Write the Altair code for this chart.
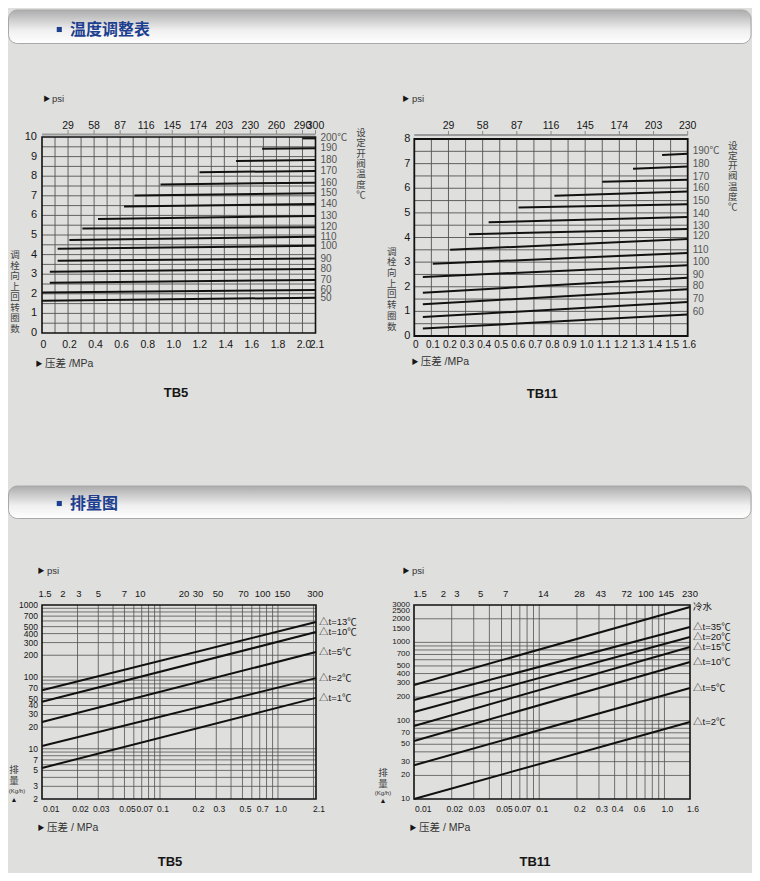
import altair as alt
import pandas as pd

BG = "#dfdfdd"
SANS = "Liberation Sans, Noto Sans CJK SC, DejaVu Sans"
CJK = "Noto Sans CJK SC"
INK = "#161616"
GRID = "#525252"
BLUE = "#1d3f8f"

# ---------------- TB5 temperature adjustment table ----------------
tb5_temp_labels = ["200℃", "190", "180", "170", "160", "150", "140", "130",
                   "120", "110", "100", "90", "80", "70", "60", "50"]
tb5_start_mpa = [2.00, 1.69, 1.49, 1.21, 0.91, 0.71, 0.63, 0.43,
                 0.31, 0.21, 0.12, 0.12, 0.06, 0.06, 0.00, 0.00]
tb5_start_turns = [9.93, 9.40, 8.78, 8.20, 7.58, 7.02, 6.46, 5.82,
                   5.33, 4.75, 4.30, 3.68, 3.12, 2.57, 2.07, 1.65]
tb5_end_mpa = [2.1] * 16
tb5_end_turns = [9.93, 9.43, 8.83, 8.27, 7.67, 7.13, 6.58, 5.97,
                 5.40, 4.91, 4.45, 3.80, 3.27, 2.71, 2.20, 1.80]
tb5_mpa_ticks = [0, 0.2, 0.4, 0.6, 0.8, 1.0, 1.2, 1.4, 1.6, 1.8, 2.0, 2.1]
tb5_mpa_labels = ["0", "0.2", "0.4", "0.6", "0.8", "1.0", "1.2", "1.4", "1.6", "1.8", "2.0", "2.1"]
tb5_psi_ticks = [0.2, 0.4, 0.6, 0.8, 1.0, 1.2, 1.4, 1.6, 1.8, 2.0, 2.1]
tb5_psi_labels = ["29", "58", "87", "116", "145", "174", "203", "230", "260", "290", "300"]
tb5_turn_ticks = [0, 1, 2, 3, 4, 5, 6, 7, 8, 9, 10]

# ---------------- TB11 temperature adjustment table ----------------
tb11_temp_labels = ["190℃", "180", "170", "160", "150", "140", "130",
                    "120", "110", "100", "90", "80", "70", "60"]
tb11_start_mpa = [1.45, 1.28, 1.10, 0.82, 0.61, 0.435, 0.32,
                  0.21, 0.108, 0.05, 0.05, 0.05, 0.05, 0.05]
tb11_start_turns = [7.35, 6.79, 6.26, 5.70, 5.22, 4.62, 4.13,
                    3.50, 2.93, 2.40, 1.76, 1.29, 0.77, 0.30]
tb11_end_mpa = [1.6] * 14
tb11_end_turns = [7.40, 6.88, 6.35, 5.87, 5.35, 4.83, 4.35,
                  3.94, 3.37, 2.87, 2.37, 1.90, 1.38, 0.87]
tb11_mpa_ticks = [0, 0.1, 0.2, 0.3, 0.4, 0.5, 0.6, 0.7, 0.8, 0.9, 1.0, 1.1, 1.2, 1.3, 1.4, 1.5, 1.6]
tb11_mpa_labels = ["0", "0.1", "0.2", "0.3", "0.4", "0.5", "0.6", "0.7", "0.8",
                   "0.9", "1.0", "1.1", "1.2", "1.3", "1.4", "1.5", "1.6"]
tb11_psi_ticks = [0.2, 0.4, 0.6, 0.8, 1.0, 1.2, 1.4, 1.6]
tb11_psi_labels = ["29", "58", "87", "116", "145", "174", "203", "230"]
tb11_turn_ticks = [0, 1, 2, 3, 4, 5, 6, 7, 8]

# ---------------- TB5 discharge chart ----------------
tb5f_labels = ["△t=13℃", "△t=10℃", "△t=5℃", "△t=2℃", "△t=1℃"]
tb5f_x0 = [0.01] * 5
tb5f_x1 = [2.1] * 5
tb5f_y0 = [65, 45, 23.5, 10.9, 5.4]
tb5f_y1 = [580, 420, 222, 96, 51]
tb5f_mpa_ticks = [0.01, 0.02, 0.03, 0.05, 0.07, 0.1, 0.2, 0.3, 0.5, 0.7, 1.0, 2.1]
tb5f_mpa_labels = ["0.01", "0.02", "0.03", "0.05", "0.07", "0.1", "0.2", "0.3", "0.5", "0.7", "1.0", "2.1"]
tb5f_psi_pos = [0.0106, 0.015, 0.0205, 0.03, 0.05, 0.068, 0.16, 0.21, 0.31, 0.51, 0.74, 1.09, 2.07]
tb5f_psi_labels = ["1.5", "2", "3", "5", "7", "10", "20", "30", "50", "70", "100", "150", "300"]
tb5f_q_ticks = [1000, 700, 500, 400, 300, 200, 100, 70, 50, 40, 30, 20, 10, 7, 5, 3, 2]

# ---------------- TB11 discharge chart ----------------
tb11f_labels = ["冷水", "△t=35℃", "△t=20℃", "△t=15℃", "△t=10℃", "△t=5℃", "△t=2℃"]
tb11f_x0 = [0.01] * 7
tb11f_x1 = [1.6] * 7
tb11f_y0 = [286, 184, 129, 85.5, 55, 27, 10]
tb11f_y1 = [2830, 1570, 1170, 874, 562, 262, 96]
tb11f_mpa_ticks = [0.01, 0.02, 0.03, 0.05, 0.07, 0.1, 0.2, 0.3, 0.4, 0.6, 1.0, 1.6]
tb11f_mpa_labels = ["0.01", "0.02", "0.03", "0.05", "0.07", "0.1", "0.2", "0.3", "0.4", "0.6", "1.0", "1.6"]
tb11f_psi_pos = [0.0112, 0.0172, 0.022, 0.034, 0.054, 0.108, 0.21, 0.31, 0.5, 0.71, 1.03, 1.6]
tb11f_psi_labels = ["1.5", "2", "3", "5", "7", "14", "28", "43", "72", "100", "145", "230"]
tb11f_q_ticks = [3000, 2500, 2000, 1500, 1000, 700, 500, 400, 300, 200, 100, 70, 50, 30, 20, 10]


def log_steps(decades, last):
    vals = []
    for d in decades:
        vals += [k * d for k in range(1, 10)]
    return [v for v in vals if v <= last]


# ---------------- helpers ----------------
def seg(df, xs, ys, **mk):
    return alt.Chart(df).mark_rule(**mk).encode(
        x=alt.X("x0:Q", scale=xs, axis=None), x2="x1:Q",
        y=alt.Y("y0:Q", scale=ys, axis=None), y2="y1:Q")


def vlines(vals, lo, hi):
    n = len(vals)
    return pd.DataFrame({"x0": vals, "x1": vals, "y0": [lo] * n, "y1": [hi] * n})


def hlines(vals, lo, hi):
    n = len(vals)
    return pd.DataFrame({"x0": [lo] * n, "x1": [hi] * n, "y0": vals, "y1": vals})


def txt(xv, yv, labels, xs, ys, **mk):
    base = dict(font=SANS, fontSize=11, color=INK)
    base.update(mk)
    n = len(labels)
    xv = xv if isinstance(xv, list) else [xv] * n
    yv = yv if isinstance(yv, list) else [yv] * n
    df = pd.DataFrame({"x": xv, "y": yv, "t": labels})
    return alt.Chart(df).mark_text(**base).encode(
        x=alt.X("x:Q", scale=xs, axis=None),
        y=alt.Y("y:Q", scale=ys, axis=None), text="t:N")


def frame(x0, x1, y0, y1, xs, ys, w=1.6):
    df = pd.DataFrame({"x0": [x0], "x1": [x1], "y0": [y0], "y1": [y1]})
    return alt.Chart(df).mark_rect(fillOpacity=0, stroke="#111111", strokeWidth=w).encode(
        x=alt.X("x0:Q", scale=xs, axis=None), x2="x1:Q",
        y=alt.Y("y0:Q", scale=ys, axis=None), y2="y1:Q")


def deco(x, y, t, **mk):
    base = dict(font=SANS, fontSize=10, color=INK, align="left", baseline="middle")
    base.update(mk)
    return alt.Chart(pd.DataFrame({"t": [t]})).mark_text(**base).encode(
        x=alt.value(x), y=alt.value(y), text="t:N")


def header(y0, y1, title, ty):
    grad = alt.Gradient(gradient="linear", x1=0, y1=0, x2=0, y2=1, stops=[
        alt.GradientStop(offset=0, color="#acacac"),
        alt.GradientStop(offset=0.6, color="#efefef"),
        alt.GradientStop(offset=1, color="#ffffff")])
    box = alt.Chart(pd.DataFrame({"t": [0]})).mark_rect(
        fill=grad, stroke="#a8a8a8", strokeWidth=1, cornerRadius=9).encode(
        x=alt.value(0.5), x2=alt.value(743), y=alt.value(y0), y2=alt.value(y1))
    sq = alt.Chart(pd.DataFrame({"t": [0]})).mark_square(size=26, color=BLUE, opacity=1).encode(
        x=alt.value(51.3), y=alt.value(ty))
    t = deco(62, ty, title, font=CJK, fontSize=16, fontWeight="bold", color=BLUE)
    return [box, sq, t]


def vtext(x, ytop, s, lh, **mk):
    base = dict(font=CJK, fontSize=9.5, color="#444444", align="center", baseline="top",
                lineBreak="\n", lineHeight=lh)
    base.update(mk)
    return deco(x, ytop, "\n".join(list(s)), **base)


# ---------------- panel A: TB5 temperature ----------------
xsA = alt.Scale(domain=[0, 2.1], range=[34, 307.5], nice=False, zero=False)
ysA = alt.Scale(domain=[0, 10], range=[325, 129], nice=False, zero=False)
gA_x = [i / 10 for i in range(1, 21)]
gA_y = [i / 2 for i in range(1, 20)]
linesA = pd.DataFrame({"x0": tb5_start_mpa, "x1": tb5_end_mpa, "y0": tb5_start_turns, "y1": tb5_end_turns})
panelA = alt.layer(
    seg(vlines(gA_x, 0, 10), xsA, ysA, color=GRID, strokeWidth=0.9),
    seg(hlines(gA_y, 0, 2.1), xsA, ysA, color=GRID, strokeWidth=0.9),
    seg(hlines([10], 0, 2.1), xsA, ysA, color="#9a9a9a", strokeWidth=2, yOffset=-2.5, y2Offset=-2.5),
    seg(vlines(tb5_psi_ticks, 10, 10), xsA, ysA, color="#8a8a8a", strokeWidth=1, yOffset=-7, y2Offset=-3),
    frame(0, 2.1, 0, 10, xsA, ysA),
    seg(linesA, xsA, ysA, color="#111111", strokeWidth=2),
    txt(tb5_end_mpa, tb5_end_turns, tb5_temp_labels, xsA, ysA, dx=5, align="left",
        baseline="middle", fontSize=10, color="#555555"),
    txt(tb5_mpa_ticks, 0, tb5_mpa_labels, xsA, ysA, dy=11.5, dx=1.5, align="center", baseline="middle",
        fontSize=10.5),
    txt(0, tb5_turn_ticks, [str(v) for v in tb5_turn_ticks], xsA, ysA, dx=-5, align="right", baseline="middle"),
    txt(tb5_psi_ticks, 10, tb5_psi_labels, xsA, ysA, dy=-11.5, align="center", baseline="middle",
        fontSize=10.5),
)

# ---------------- panel B: TB11 temperature ----------------
xsB = alt.Scale(domain=[0, 1.6], range=[406.3, 679.7], nice=False, zero=False)
ysB = alt.Scale(domain=[0, 8], range=[328, 131], nice=False, zero=False)
gB_x = [i / 10 for i in range(1, 16)]
gB_y = [i / 2 for i in range(1, 16)]
linesB = pd.DataFrame({"x0": tb11_start_mpa, "x1": tb11_end_mpa, "y0": tb11_start_turns, "y1": tb11_end_turns})
panelB = alt.layer(
    seg(vlines(gB_x, 0, 8), xsB, ysB, color=GRID, strokeWidth=0.9),
    seg(hlines(gB_y, 0, 1.6), xsB, ysB, color=GRID, strokeWidth=0.9),
    seg(hlines([8], 0, 1.6), xsB, ysB, color="#9a9a9a", strokeWidth=2, yOffset=-4, y2Offset=-4),
    seg(vlines(tb11_psi_ticks, 8, 8), xsB, ysB, color="#8a8a8a", strokeWidth=1, yOffset=-8, y2Offset=-4),
    frame(0, 1.6, 0, 8, xsB, ysB, w=1.8),
    seg(linesB, xsB, ysB, color="#111111", strokeWidth=2),
    txt(tb11_end_mpa, tb11_end_turns, tb11_temp_labels, xsB, ysB, dx=5, dy=-3, align="left",
        baseline="middle", fontSize=10, color="#555555"),
    txt(tb11_mpa_ticks, 0, tb11_mpa_labels, xsB, ysB, dy=9, dx=1.5, align="center", baseline="middle",
        fontSize=10),
    txt(0, tb11_turn_ticks, [str(v) for v in tb11_turn_ticks], xsB, ysB, dx=-4, align="right", baseline="middle"),
    txt(tb11_psi_ticks, 8, tb11_psi_labels, xsB, ysB, dy=-13, align="center", baseline="middle",
        fontSize=10.5),
)

# ---------------- panel C: TB5 discharge ----------------
xsC = alt.Scale(type="log", domain=[0.01, 2.1], range=[34, 308], nice=False)
ysC = alt.Scale(type="log", domain=[2, 1000], range=[791, 597], nice=False)
gC_x = [v for v in log_steps([0.01, 0.1, 1], 2.0) if v > 0.0100001]
gC_y = [v for v in log_steps([1, 10, 100], 999) if v > 2.5]
linesC = pd.DataFrame({"x0": tb5f_x0, "x1": tb5f_x1, "y0": tb5f_y0, "y1": tb5f_y1})
panelC = alt.layer(
    seg(vlines(gC_x, 2, 1000), xsC, ysC, color=GRID, strokeWidth=0.8),
    seg(hlines(gC_y, 0.01, 2.1), xsC, ysC, color=GRID, strokeWidth=0.8),
    frame(0.01, 2.1, 2, 1000, xsC, ysC),
    seg(linesC, xsC, ysC, color="#111111", strokeWidth=2),
    txt(tb5f_x1, tb5f_y1, tb5f_labels, xsC, ysC, dx=3, align="left", baseline="middle", fontSize=9.5),
    txt(tb5f_mpa_ticks[:1], 2, tb5f_mpa_labels[:1], xsC, ysC, dy=10, dx=1, align="left",
        baseline="middle", fontSize=8.5),
    txt(tb5f_mpa_ticks[1:], 2, tb5f_mpa_labels[1:], xsC, ysC, dy=10, dx=3, align="center",
        baseline="middle", fontSize=8.5),
    txt(0.01, tb5f_q_ticks, [str(v) for v in tb5f_q_ticks], xsC, ysC, dx=-4, align="right",
        baseline="middle", fontSize=8.5),
    txt(tb5f_psi_pos, 1000, tb5f_psi_labels, xsC, ysC, dy=-11, align="center", baseline="middle", fontSize=9.5),
)

# ---------------- panel D: TB11 discharge ----------------
xsD = alt.Scale(type="log", domain=[0.01, 1.6], range=[406, 682], nice=False)
ysD = alt.Scale(type="log", domain=[10, 3000], range=[791, 597], nice=False)
gD_x = [v for v in log_steps([0.01, 0.1, 1], 1.0) if v > 0.0100001]
gD_y = [v for v in log_steps([10, 100, 1000], 2000) if v > 10.5]
linesD = pd.DataFrame({"x0": tb11f_x0, "x1": tb11f_x1, "y0": tb11f_y0, "y1": tb11f_y1})
panelD = alt.layer(
    seg(vlines(gD_x, 10, 3000), xsD, ysD, color=GRID, strokeWidth=0.8),
    seg(hlines(gD_y, 0.01, 1.6), xsD, ysD, color=GRID, strokeWidth=0.8),
    frame(0.01, 1.6, 10, 3000, xsD, ysD),
    seg(linesD, xsD, ysD, color="#111111", strokeWidth=2),
    txt(tb11f_x1, tb11f_y1, tb11f_labels, xsD, ysD, dx=3, align="left", baseline="middle", fontSize=9.5),
    txt(tb11f_mpa_ticks[:1], 10, tb11f_mpa_labels[:1], xsD, ysD, dy=10, dx=1, align="left",
        baseline="middle", fontSize=8.5),
    txt(tb11f_mpa_ticks[1:], 10, tb11f_mpa_labels[1:], xsD, ysD, dy=10, dx=3, align="center",
        baseline="middle", fontSize=8.5),
    txt(0.01, tb11f_q_ticks, [str(v) for v in tb11f_q_ticks], xsD, ysD, dx=-4, align="right",
        baseline="middle", fontSize=8),
    txt(tb11f_psi_pos, 3000, tb11f_psi_labels, xsD, ysD, dy=-11, align="center", baseline="middle", fontSize=9.5),
)

# ---------------- static annotations ----------------
decos = []
decos += header(2, 35.5, "温度调整表", 21.5)
decos += header(478, 510.5, "排量图", 495.5)
# panel A
decos += [deco(38.7, 91, "▶", fontSize=7, align="center"),
          deco(44, 91, "psi", fontSize=9.5, color="#333333"),
          deco(31, 356.3, "▶", fontSize=7, align="center"),
          deco(37, 356.3, "压差 /MPa", fontSize=10.5, color="#333333"),
          vtext(353, 120, "设定开阀温度℃", 10.3),
          vtext(7, 242, "调栓向上回转圈数", 10.5),
          deco(168, 385.3, "TB5", fontSize=13, fontWeight="bold", align="center", font="Liberation Sans")]
# panel B
decos += [deco(397.7, 91.3, "▶", fontSize=7, align="center"),
          deco(404, 91.3, "psi", fontSize=9.5, color="#333333"),
          deco(407, 354.3, "▶", fontSize=7, align="center"),
          deco(412.7, 354.3, "压差 /MPa", fontSize=10.5, color="#333333"),
          vtext(724.7, 132.7, "设定开阀温度℃", 10.25),
          vtext(383.7, 238.7, "调栓向上回转圈数", 10.7),
          deco(534.3, 386.3, "TB11", fontSize=13, fontWeight="bold", align="center", font="Liberation Sans")]
# panel C
decos += [deco(33, 563, "▶", fontSize=7, align="center"),
          deco(39, 563, "psi", fontSize=9.5, color="#333333"),
          deco(33, 820, "▶", fontSize=7, align="center"),
          deco(39, 820, "压差 / MPa", fontSize=10.5, color="#333333"),
          vtext(6, 757, "排量", 11),
          deco(9, 783, "(Kg/h)", fontSize=6, align="center", color="#333333"),
          deco(6, 792, "▲", fontSize=7, align="center"),
          deco(162, 854, "TB5", fontSize=13, fontWeight="bold", align="center", font="Liberation Sans")]
# panel D
decos += [deco(398, 563, "▶", fontSize=7, align="center"),
          deco(404, 563, "psi", fontSize=9.5, color="#333333"),
          deco(405, 820, "▶", fontSize=7, align="center"),
          deco(411, 820, "压差 / MPa", fontSize=10.5, color="#333333"),
          vtext(375, 760, "排量", 11),
          deco(375, 785, "(Kg/h)", fontSize=6, align="center", color="#333333"),
          deco(375, 793, "▲", fontSize=7, align="center"),
          deco(527, 854, "TB11", fontSize=13, fontWeight="bold", align="center", font="Liberation Sans")]

chart = alt.layer(*decos, panelA, panelB, panelC, panelD).resolve_scale(
    x="independent", y="independent"
).properties(
    width=744, height=865, background=BG, padding=0,
    autosize=alt.AutoSizeParams(type="none")
).configure_view(stroke=None)

chart.save("out.html", embed_options={"renderer": "svg", "actions": False})
